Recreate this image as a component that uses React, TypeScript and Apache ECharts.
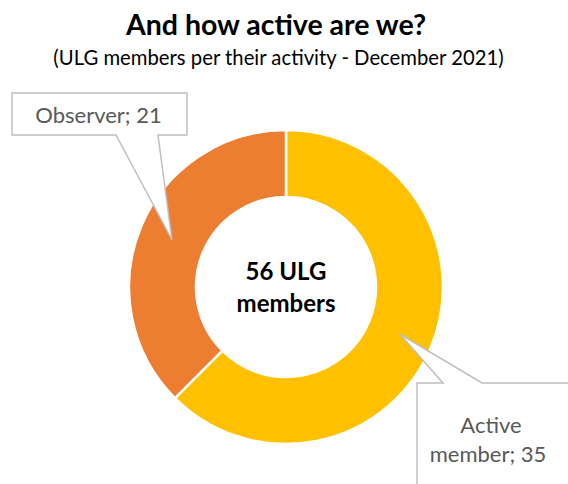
import React, { useEffect, useRef } from "react";
import * as echarts from "echarts";

const categories = ["Active member", "Observer"];
const values = [35, 21];
const colors = ["#FFC000", "#ED7D31"];
const titleText = "And how active are we?";
const subtitleText = "(ULG members per their activity - December 2021)";

const W = 568;
const H = 484;
const CX = 286;
const CY = 287;
const R_IN = 90;
const R_OUT = 157;
const FONT = "Lato, 'Open Sans', sans-serif";

export default function App() {
  const ref = useRef<HTMLDivElement>(null);
  useEffect(() => {
    document.body.style.margin = "0";
    if (!ref.current) return;
    const chart = echarts.init(ref.current, undefined, { renderer: "svg" });
    const total = values.reduce((a, b) => a + b, 0);
    // tips at mid-angle of each slice, mid-ring radius (clockwise from top)
    const rMid = (R_IN + R_OUT) / 2;
    let acc = 0;
    const tips = values.map((v) => {
      const midFrac = (acc + v / 2) / total;
      acc += v;
      const ang = (90 - midFrac * 360) * (Math.PI / 180);
      return [CX + rMid * Math.cos(ang), CY - rMid * Math.sin(ang)];
    });
    const activeTip = tips[0];
    const obsTip = tips[1];
    const stroke = { fill: "#ffffff", stroke: "#BFBFBF", lineWidth: 1.5 };
    const labelStyle = { fill: "#595959", font: `22px ${FONT}`, textAlign: "center", textVerticalAlign: "middle" };
    chart.setOption({
      animation: false,
      series: [
        {
          type: "pie",
          center: [CX, CY],
          radius: [R_IN, R_OUT],
          startAngle: 90,
          clockwise: true,
          label: { show: false },
          labelLine: { show: false },
          itemStyle: { borderColor: "#ffffff", borderWidth: 2.5 },
          data: categories.map((c, i) => ({ name: c, value: values[i], itemStyle: { color: colors[i] } })),
        },
      ],
      graphic: [
        {
          type: "text",
          x: 276,
          y: 24,
          z: 100,
          style: { text: titleText, fill: "#000", font: `bold 28.5px ${FONT}`, textAlign: "center", textVerticalAlign: "middle" },
        },
        {
          type: "text",
          x: 278.5,
          y: 57,
          z: 100,
          style: { text: subtitleText, fill: "#000", font: `20.3px ${FONT}`, textAlign: "center", textVerticalAlign: "middle" },
        },
        {
          type: "text",
          x: CX,
          y: 270,
          z: 100,
          style: { text: `${total} ULG`, fill: "#000", font: `bold 24px ${FONT}`, textAlign: "center", textVerticalAlign: "middle" },
        },
        {
          type: "text",
          x: CX,
          y: 302,
          z: 100,
          style: { text: "members", fill: "#000", font: `bold 24px ${FONT}`, textAlign: "center", textVerticalAlign: "middle" },
        },
        {
          type: "polygon",
          z: 100,
          shape: {
            points: [
              [12, 93], [187, 93], [187, 135], [158, 135], obsTip, [116, 135], [12, 135],
            ],
          },
          style: stroke,
        },
        {
          type: "text",
          x: 98.5,
          y: 114,
          z: 101,
          style: { ...labelStyle, text: `Observer; ${values[1]}` },
        },
        {
          type: "polygon",
          z: 100,
          shape: {
            points: [
              [417, 383], [443, 383], activeTip, [482, 383], [580, 383], [580, 500], [417, 500],
            ],
          },
          style: stroke,
        },
        {
          type: "text",
          x: 491,
          y: 424,
          z: 101,
          style: { ...labelStyle, text: "Active" },
        },
        {
          type: "text",
          x: 488,
          y: 453,
          z: 101,
          style: { ...labelStyle, text: `member; ${values[0]}` },
        },
      ],
    });
    return () => chart.dispose();
  }, []);
  return <div ref={ref} style={{ width: W, height: H }} />;
}
